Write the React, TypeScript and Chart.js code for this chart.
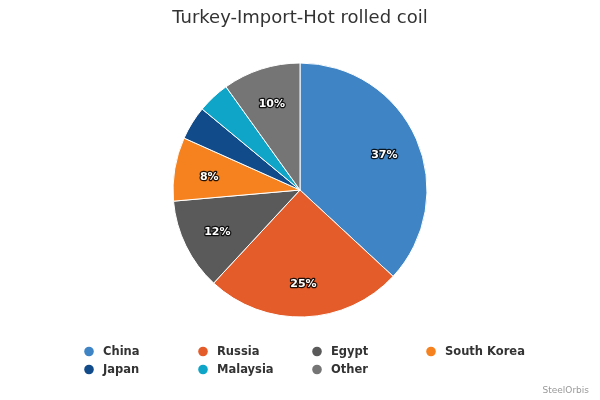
import React, { useEffect, useRef } from "react";
import { Chart, registerables } from "chart.js";

Chart.register(...registerables);

const TITLE = "Turkey-Import-Hot rolled coil";
const categories = ["China", "Russia", "Egypt", "South Korea", "Japan", "Malaysia", "Other"];
const shares = [36.9, 25.0, 11.7, 8.1, 4.3, 4.1, 9.9];
const colors = ["#3f85c6", "#e45c2a", "#5a5a5a", "#f5821f", "#124b8a", "#0fa5c9", "#757575"];
const CREDIT = "SteelOrbis";

const sliceLabels = {
  id: "sliceLabels",
  afterDatasetsDraw(chart: any) {
    const ctx = chart.ctx;
    const meta = chart.getDatasetMeta(0);
    const data = chart.data.datasets[0].data as number[];
    const total = data.reduce((a, b) => a + b, 0);
    ctx.save();
    ctx.font = "bold 11px 'DejaVu Sans'";
    ctx.textAlign = "center";
    ctx.textBaseline = "middle";
    ctx.lineJoin = "round";
    meta.data.forEach((arc: any, i: number) => {
      const pct = (data[i] / total) * 100;
      if (pct < 5) return;
      const p = arc.getProps(["x", "y", "startAngle", "endAngle", "outerRadius"], true);
      const mid = (p.startAngle + p.endAngle) / 2;
      const r = p.outerRadius - 35;
      const tx = p.x + Math.cos(mid) * r;
      const ty = p.y + Math.sin(mid) * r + 2;
      const txt = Math.round(pct) + "%";
      ctx.lineWidth = 2.5;
      ctx.strokeStyle = "rgba(0,0,0,0.85)";
      ctx.strokeText(txt, tx, ty);
      ctx.fillStyle = "#ffffff";
      ctx.fillText(txt, tx, ty);
    });
    ctx.restore();
  },
};

const gridLegend = {
  id: "gridLegend",
  afterDraw(chart: any, _args: any, opts: any) {
    const ctx = chart.ctx;
    const labels = chart.data.labels as string[];
    const bg = chart.data.datasets[0].backgroundColor as string[];
    ctx.save();
    ctx.font = "bold 11.5px 'DejaVu Sans'";
    ctx.textBaseline = "middle";
    ctx.textAlign = "left";
    labels.forEach((lab, i) => {
      const col = i % opts.cols;
      const row = Math.floor(i / opts.cols);
      const cx = opts.x + col * opts.colWidth;
      const cy = opts.y + row * opts.rowHeight;
      ctx.beginPath();
      ctx.arc(cx, cy, opts.radius, 0, Math.PI * 2);
      ctx.fillStyle = bg[i];
      ctx.fill();
      ctx.fillStyle = "#333333";
      ctx.fillText(lab, cx + 14, cy + 0.5);
    });
    ctx.font = "9px 'DejaVu Sans'";
    ctx.fillStyle = "#999999";
    ctx.textAlign = "right";
    ctx.fillText(CREDIT, chart.width - 11, chart.height - 9);
    ctx.restore();
  },
};

export default function App() {
  const ref = useRef<HTMLCanvasElement | null>(null);
  useEffect(() => {
    document.body.style.margin = "0";
    const chart = new Chart(ref.current!, {
      type: "pie",
      data: {
        labels: categories,
        datasets: [
          {
            data: shares,
            backgroundColor: colors,
            borderColor: "#ffffff",
            borderWidth: 1,
          },
        ],
      },
      options: {
        animation: false,
        responsive: true,
        maintainAspectRatio: false,
        radius: 127,
        layout: { padding: { top: 0, bottom: 60, left: 0, right: 0 } },
        plugins: {
          legend: { display: false },
          tooltip: { enabled: false },
          title: {
            display: true,
            text: TITLE,
            color: "#333333",
            font: { family: "'DejaVu Sans'", size: 18, weight: "normal" },
            padding: { top: 8, bottom: 10.4 },
          },
          gridLegend: { x: 89, y: 351.5, cols: 4, colWidth: 114, rowHeight: 18, radius: 4.8 },
        } as any,
      },
      plugins: [sliceLabels, gridLegend],
    });
    return () => chart.destroy();
  }, []);
  return (
    <div style={{ position: "absolute", left: 0, top: 0, width: 600, height: 400, background: "#fff" }}>
      <canvas ref={ref} />
    </div>
  );
}
